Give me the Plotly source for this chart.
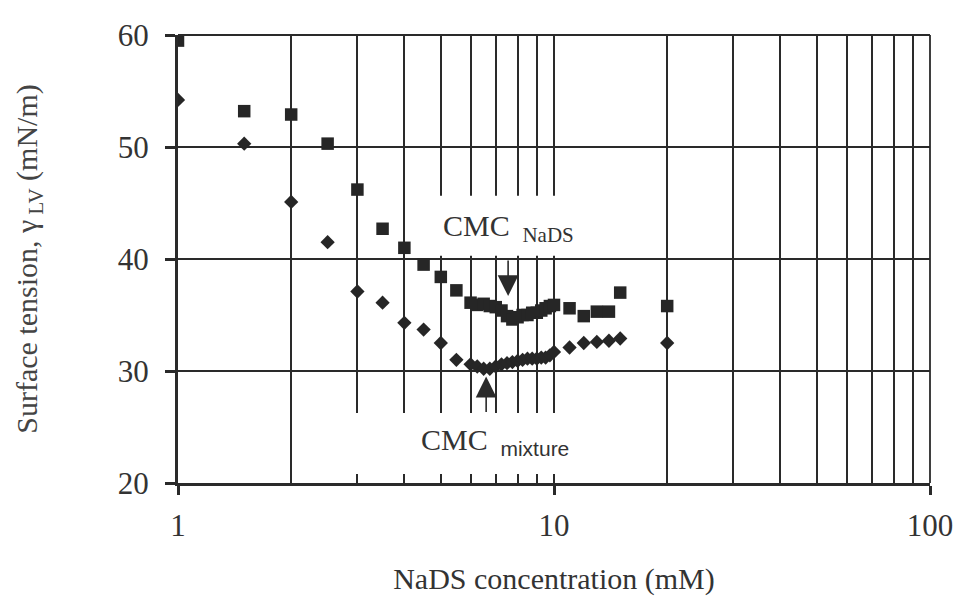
import math
import plotly.graph_objects as go

# ---- data ----
nads_x = [1, 1.5, 2, 2.5, 3, 3.5, 4, 4.5, 5, 5.5, 6, 6.25, 6.5, 6.75, 7, 7.25, 7.5, 7.75,
          8, 8.25, 8.5, 8.75, 9, 9.25, 9.5, 9.75, 10, 11, 12, 13, 14, 15, 20]
nads_y = [59.5, 53.2, 52.9, 50.3, 46.2, 42.7, 41.0, 39.5, 38.4, 37.2, 36.1, 35.9, 36.0, 35.8,
          35.7, 35.4, 34.9, 34.6, 34.8, 35.0, 35.0, 35.2, 35.2, 35.4, 35.6, 35.8, 35.9,
          35.6, 34.9, 35.3, 35.3, 37.0, 35.8]

mix_x = [1, 1.5, 2, 2.5, 3, 3.5, 4, 4.5, 5, 5.5, 6, 6.25, 6.5, 6.75, 7, 7.25, 7.5, 7.75,
         8, 8.25, 8.5, 8.75, 9, 9.25, 9.5, 9.75, 10, 11, 12, 13, 14, 15, 20]
mix_y = [54.2, 50.3, 45.1, 41.5, 37.1, 36.1, 34.3, 33.7, 32.5, 31.0, 30.6, 30.4, 30.2, 30.2,
         30.4, 30.6, 30.7, 30.8, 30.9, 31.0, 31.1, 31.1, 31.1, 31.2, 31.2, 31.4, 31.7,
         32.1, 32.5, 32.6, 32.7, 32.9, 32.5]

cmc_nads = 7.55
cmc_mix = 6.6

x_ticks = [1, 10, 100]
x_ticktext = ["1", "10", "100"]
y_ticks = [20, 30, 40, 50, 60]

SERIF = "Liberation Serif"
INK = "#262626"
LINE = "#2a2a2a"

fig = go.Figure()
fig.add_trace(go.Scatter(x=nads_x, y=nads_y, mode="markers", name="NaDS",
                         marker=dict(symbol="square", size=12.5, color=INK)))
fig.add_trace(go.Scatter(x=mix_x, y=mix_y, mode="markers", name="mixture",
                         marker=dict(symbol="diamond", size=11, color=INK)))

# white boxes behind the CMC labels (cover the grid; no markers lie there)
fig.add_shape(type="rect", xref="paper", yref="paper", x0=0.328, x1=0.548, y0=0.507, y1=0.641,
              fillcolor="white", line=dict(width=0), layer="above")
fig.add_shape(type="rect", xref="paper", yref="paper", x0=0.205, x1=0.548, y0=0.020, y1=0.156,
              fillcolor="white", line=dict(width=0), layer="above")
# frame: top and right
fig.add_shape(type="line", xref="paper", yref="paper", x0=0, x1=1, y0=1, y1=1,
              line=dict(color=LINE, width=2), layer="above")
fig.add_shape(type="line", xref="paper", yref="paper", x0=1, x1=1, y0=0, y1=1,
              line=dict(color=LINE, width=1.8), layer="above")

# arrows
fig.add_annotation(x=math.log10(cmc_nads), y=36.7, ax=math.log10(cmc_nads), ay=40,
                   xref="x", yref="y", axref="x", ayref="y", text="", showarrow=True,
                   arrowhead=2, arrowsize=2.6, arrowwidth=1.6, arrowcolor=LINE)
fig.add_annotation(x=math.log10(cmc_mix), y=29.5, ax=math.log10(cmc_mix), ay=26.2,
                   xref="x", yref="y", axref="x", ayref="y", text="", showarrow=True,
                   arrowhead=2, arrowsize=2.6, arrowwidth=1.6, arrowcolor=LINE)

# labels
fig.add_annotation(x=0.8777, y=42.8, xref="x", yref="y", showarrow=False,
                   text="CMC <sub> NaDS</sub>", font=dict(family=SERIF, size=30, color="#333"),
                   xanchor="center", yanchor="middle")
fig.add_annotation(x=0.8418, y=23.7, xref="x", yref="y", showarrow=False,
                   text="CMC <sub> <span style=\"font-family:'Liberation Sans'\">mixture</span></sub>",
                   font=dict(family=SERIF, size=30, color="#333"),
                   xanchor="center", yanchor="middle")

fig.update_layout(
    width=960, height=604,
    margin=dict(l=178, r=30, t=35, b=121),
    paper_bgcolor="white", plot_bgcolor="white",
    showlegend=False,
    font=dict(family=SERIF, size=30, color="#333"),
)
fig.update_xaxes(
    type="log", range=[0, 2],
    tickvals=x_ticks, ticktext=x_ticktext,
    showgrid=True, gridcolor=LINE, gridwidth=1.8,
    minor=dict(dtick="D1", showgrid=True, gridcolor=LINE, gridwidth=1.8, ticks=""),
    showline=True, linecolor=LINE, linewidth=3,
    ticks="outside", ticklen=9, tickwidth=2.5, tickcolor=LINE,
    ticklabelstandoff=4,
    tickfont=dict(family=SERIF, size=31, color="#333"),
    title=dict(text="NaDS concentration (mM)", standoff=26,
               font=dict(family=SERIF, size=30, color="#333")),
    zeroline=False, automargin=False,
)
fig.update_yaxes(
    range=[20, 60], tickvals=y_ticks,
    showgrid=True, gridcolor=LINE, gridwidth=1.8,
    showline=True, linecolor=LINE, linewidth=3,
    ticks="outside", ticklen=10, tickwidth=2.5, tickcolor=LINE,
    ticklabelstandoff=10,
    tickfont=dict(family=SERIF, size=31, color="#333"),
    title=dict(text="Surface tension, γ<sub> LV</sub> (mN/m)", standoff=72,
               font=dict(family=SERIF, size=30, color="#444")),
    zeroline=False, automargin=False,
)

fig.write_html("out.html")
